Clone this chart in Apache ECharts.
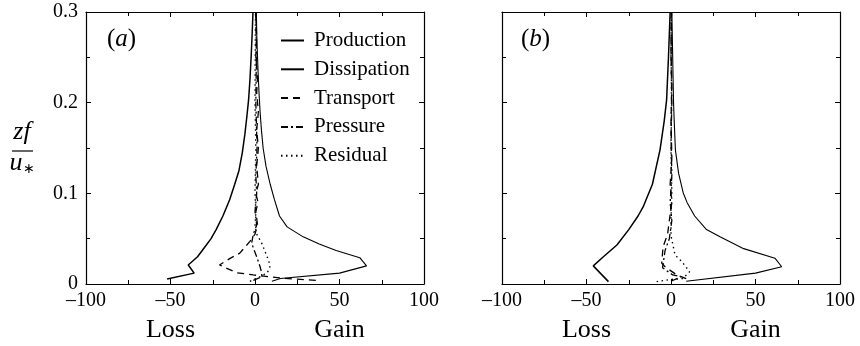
<!DOCTYPE html>
<html>
<head>
<meta charset="utf-8">
<script src="https://cdn.jsdelivr.net/npm/echarts@6/dist/echarts.min.js"></script>
<style>
html, body { margin: 0; padding: 0; background: #fff; }
#chart { width: 860px; height: 346px; }
</style>
</head>
<body>
<div id="chart"></div>
<script>
// ---- data: [value, zf/u*] pairs ----
const seriesNames = ['Production', 'Dissipation', 'Transport', 'Pressure', 'Residual']

// panel (a)
const productionA = [[10, 0.003], [15, 0.006], [50, 0.012], [66, 0.02], [62, 0.029], [48, 0.037], [38, 0.044], [28.5, 0.052], [19, 0.063], [14.5, 0.075], [11.5, 0.093], [9, 0.11], [6.5, 0.13], [4.8, 0.15], [3.8, 0.17], [3, 0.19], [2.4, 0.21], [1.9, 0.23], [1.5, 0.25], [1.1, 0.27], [0.8, 0.3]]
const dissipationA = [[-52, 0.0055], [-36, 0.012], [-39.5, 0.021], [-34, 0.03], [-30, 0.04], [-26, 0.05], [-23, 0.06], [-19, 0.075], [-15, 0.093], [-12, 0.11], [-9.5, 0.125], [-7.5, 0.145], [-6, 0.165], [-4.8, 0.185], [-3.8, 0.203], [-3, 0.225], [-2.3, 0.25], [-1.7, 0.275], [-1.2, 0.3]]
const transportA = [[36, 0.004], [15, 0.0066], [-1, 0.01], [-11, 0.0125], [-21, 0.021], [-15, 0.028], [-9, 0.034], [-3, 0.047], [0, 0.055], [1.5, 0.065], [0.5, 0.08], [1.8, 0.09], [0.5, 0.1], [2, 0.11], [1, 0.13], [2, 0.15], [1, 0.17], [2, 0.19], [1, 0.21], [1.5, 0.23], [0.5, 0.25], [1, 0.27], [0.5, 0.3]]
const pressureA = [[-1, 0.004], [4, 0.008], [4, 0.012], [3, 0.019], [1, 0.03], [-2, 0.045], [-1, 0.055], [1, 0.065], [0, 0.08], [1, 0.1], [0.5, 0.12], [1.2, 0.15], [0.5, 0.2], [0.8, 0.25], [0.5, 0.3]]
const residualA = [[-3, 0.003], [3, 0.008], [7, 0.012], [8, 0.015], [9, 0.02], [8, 0.026], [4, 0.045], [1, 0.055], [0, 0.063], [0.5, 0.08], [0, 0.1], [0.5, 0.15], [0, 0.2], [0.3, 0.3]]

// panel (b)
const productionB = [[9, 0.003], [50, 0.012], [65.5, 0.019], [61.5, 0.0285], [43, 0.039], [29, 0.052], [21, 0.06], [14, 0.075], [9.5, 0.09], [7.3, 0.1], [4.5, 0.122], [2.6, 0.148], [2, 0.175], [1.5, 0.2], [1, 0.25], [0.5, 0.3]]
const dissipationB = [[-37, 0.0026], [-46, 0.02], [-40, 0.03], [-32, 0.043], [-25, 0.06], [-19.5, 0.075], [-16.5, 0.085], [-11, 0.11], [-6.5, 0.148], [-4, 0.18], [-2.6, 0.203], [-1.5, 0.25], [-0.5, 0.3]]
const transportB = [[9, 0.006], [3.4, 0.01], [-3.5, 0.019], [-5.5, 0.023], [-4.7, 0.041], [-2, 0.055], [-1, 0.07], [0.5, 0.09], [-0.5, 0.11], [0.5, 0.14], [0, 0.18], [0.5, 0.22], [0, 0.26], [0.3, 0.3]]
const pressureB = [[0, 0.003], [6, 0.008], [1, 0.01], [-5, 0.018], [-3.5, 0.037], [-1, 0.05], [0.5, 0.07], [-0.5, 0.09], [0.5, 0.12], [0, 0.16], [0.5, 0.2], [0, 0.25], [0.3, 0.3]]
const residualB = [[-8.5, 0.0026], [0, 0.005], [7, 0.006], [11, 0.0136], [6.3, 0.025], [2.4, 0.032], [0, 0.053], [0, 0.073], [0.5, 0.1], [0, 0.14], [0.3, 0.2], [0, 0.3]]

const xTicks = { min: -100, max: 100, interval: 50 }
const yTicks = { min: 0, max: 0.3, interval: 0.1 }

const FONT = "'Liberation Serif', 'Times New Roman', serif"
const INK = '#000'

const lineStyles = [
  { width: 1.1, type: 'solid' },
  { width: 1.5, type: 'solid' },
  { width: 1.3, type: [7, 5] },
  { width: 1.3, type: [7, 3, 2, 3] },
  { width: 1.4, type: [1.5, 3.5] }
]

const grids = [
  { left: 86, right: 436, top: 12, bottom: 62 },
  { left: 502, right: 20, top: 12, bottom: 62 }
]

function xAxisOf(gridIndex, position) {
  return {
    type: 'value', gridIndex, position, ...xTicks,
    axisLine: { show: true, onZero: false, lineStyle: { color: INK, width: 1.2 } },
    axisTick: { show: true, inside: true, length: 5, lineStyle: { color: INK } },
    minorTick: { show: true, splitNumber: 2, length: 4, lineStyle: { color: INK } },
    splitLine: { show: false },
    axisLabel: {
      show: position === 'bottom', margin: 7, fontFamily: FONT, fontSize: 20, color: INK,
      formatter: v => v < 0 ? '\u2013' + Math.abs(v) : String(v)
    }
  }
}

function yAxisOf(gridIndex, position, labels) {
  return {
    type: 'value', gridIndex, position, ...yTicks,
    axisLine: { show: true, onZero: false, lineStyle: { color: INK, width: 1.2 } },
    axisTick: { show: true, inside: true, length: 5, lineStyle: { color: INK } },
    minorTick: { show: true, splitNumber: 2, length: 4, lineStyle: { color: INK } },
    splitLine: { show: false },
    axisLabel: {
      show: labels, margin: 8, fontFamily: FONT, fontSize: 20, color: INK,
      formatter: v => v === 0 ? '0' : v.toFixed(1)
    }
  }
}

const panelData = [
  [productionA, dissipationA, transportA, pressureA, residualA],
  [productionB, dissipationB, transportB, pressureB, residualB]
]

const series = []
panelData.forEach((list, p) => {
  list.forEach((d, i) => {
    series.push({
      name: seriesNames[i],
      type: 'line',
      xAxisIndex: p * 2,
      yAxisIndex: p * 2,
      data: d,
      symbol: 'none',
      smooth: false,
      silent: true,
      lineStyle: { color: INK, ...lineStyles[i] },
      itemStyle: { color: INK },
      z: 3
    })
  })
})

const chart = echarts.init(document.getElementById('chart'), null, { renderer: 'canvas' })
chart.setOption({
  animation: false,
  backgroundColor: '#fff',
  grid: grids,
  xAxis: [xAxisOf(0, 'bottom'), xAxisOf(0, 'top'), xAxisOf(1, 'bottom'), xAxisOf(1, 'top')],
  yAxis: [yAxisOf(0, 'left', true), yAxisOf(0, 'right', false), yAxisOf(1, 'left', false), yAxisOf(1, 'right', false)],
  legend: {
    data: seriesNames.map(name => ({ name, icon: 'inherit' })),
    orient: 'vertical',
    left: 280, top: 30,
    padding: 0,
    itemWidth: 23, itemHeight: 12, itemGap: 7.8,
    selectedMode: false,
    itemStyle: { opacity: 0 },
    textStyle: { fontFamily: FONT, fontSize: 21, color: INK, lineHeight: 20, padding: [0, 0, 0, 5] }
  },
  series
})

// Loss / Gain under each panel, placed from the axis scale
const lossGain = []
;[0, 2].forEach(ax => {
  const lossX = chart.convertToPixel({ xAxisIndex: ax }, -50)
  const gainX = chart.convertToPixel({ xAxisIndex: ax }, 50)
  lossGain.push(
    { type: 'text', x: lossX, y: 330, style: { text: 'Loss', font: `26px ${FONT}`, fill: INK, textAlign: 'center', textVerticalAlign: 'middle' } },
    { type: 'text', x: gainX, y: 330, style: { text: 'Gain', font: `26px ${FONT}`, fill: INK, textAlign: 'center', textVerticalAlign: 'middle' } }
  )
})

function panelTag(letter, x) {
  return {
    type: 'text', x, y: 39,
    style: {
      text: `{p|(}{i|${letter}}{p|)}`,
      verticalAlign: 'middle',
      rich: {
        p: { fontFamily: FONT, fontSize: 25, fill: INK },
        i: { fontFamily: FONT, fontSize: 25, fontStyle: 'italic', fill: INK }
      }
    }
  }
}

chart.setOption({
  graphic: [
    ...lossGain,
    panelTag('a', 107),
    panelTag('b', 521),
    // zf / u* fraction
    { type: 'text', x: 22, y: 132, style: { text: 'zf', font: `italic 26px ${FONT}`, fill: INK, textAlign: 'center', textVerticalAlign: 'middle' } },
    { type: 'line', shape: { x1: 12, y1: 151, x2: 33, y2: 151 }, style: { stroke: INK, lineWidth: 1.2 } },
    {
      type: 'text', x: 22, y: 163,
      style: {
        text: '{u|u}{s|\u2217}', align: 'center', verticalAlign: 'middle',
        rich: {
          u: { fontFamily: FONT, fontSize: 26, fontStyle: 'italic', fill: INK },
          s: { fontFamily: FONT, fontSize: 14, fill: INK, verticalAlign: 'bottom', padding: [8, 0, 0, 0] }
        }
      }
    }
  ]
})
</script>
</body>
</html>
